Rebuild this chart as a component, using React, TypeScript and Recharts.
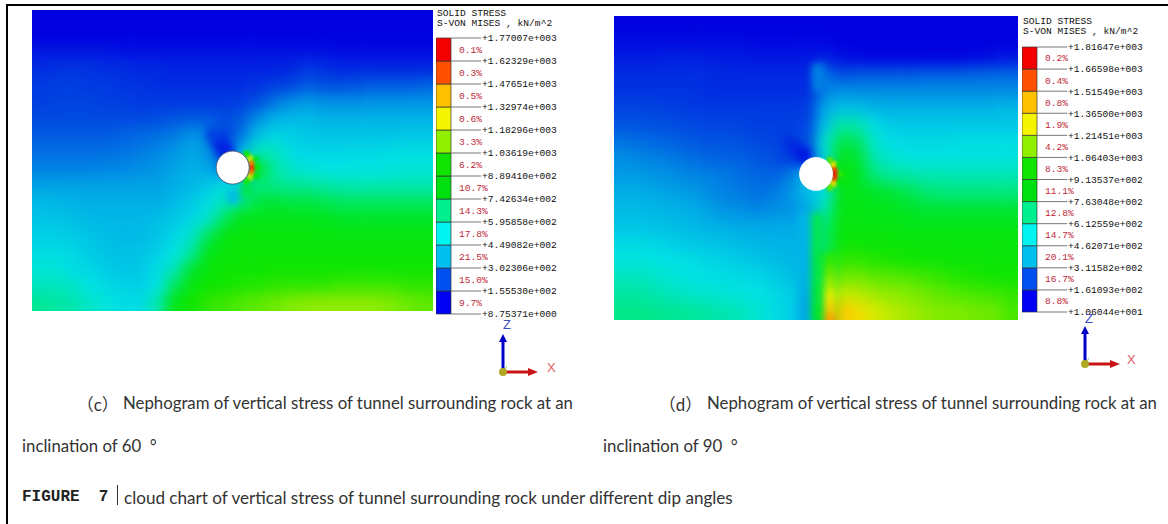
import { Bar, BarChart, LabelList, ReferenceDot, Scatter, ScatterChart, XAxis, YAxis } from "recharts";

// contour readings, in tens of kN/m^2 (24 columns x 18 rows)
const stressRowsC = [
  [6,6,6,6,6,6,6,6,6,6,6,6,6,6,6,6,6,6,6,6,6,6,6,6],
  [8,8,8,8,8,8,8,8,8,8,8,8,8,8,8,8,8,7,7,7,7,7,7,7],
  [12,12,12,12,12,11,11,11,11,11,11,11,11,11,11,11,11,11,10,10,10,10,10,10],
  [16,17,17,17,16,16,15,15,14,14,14,14,14,14,14,15,18,16,15,15,15,15,15,15],
  [18,19,19,18,18,17,17,16,16,16,16,16,16,17,19,20,24,22,22,23,24,24,24,25],
  [19,20,20,20,19,19,18,18,18,18,18,18,19,22,28,32,34,32,32,32,33,33,33,33],
  [21,21,21,21,21,21,21,22,23,24,24,22,24,32,38,40,40,38,38,38,38,38,38,38],
  [24,24,24,24,24,25,26,27,29,33,31,18,28,42,48,46,44,43,43,43,43,43,44,44],
  [27,27,27,27,27,28,29,31,33,36,33,17,40,58,58,50,48,48,48,49,49,50,50,50],
  [30,30,30,30,31,31,32,33,35,37,36,30,40,85,62,56,53,52,52,52,52,53,54,54],
  [35,35,35,35,35,35,35,35,37,39,44,50,45,68,66,64,64,62,60,60,60,60,60,60],
  [40,39,38,37,37,37,37,37,40,44,50,58,68,76,78,76,76,74,72,72,72,72,72,72],
  [43,43,41,40,39,39,39,41,44,48,55,72,84,84,84,84,84,82,80,80,80,80,80,80],
  [46,46,45,43,41,40,40,43,48,55,72,88,90,90,90,90,90,88,88,88,88,88,88,88],
  [50,50,48,45,43,42,43,46,52,62,82,90,92,92,92,92,92,92,92,92,92,92,92,92],
  [54,54,50,48,45,43,44,50,58,78,90,94,94,94,95,95,95,96,96,96,96,95,95,95],
  [58,58,56,52,49,47,46,52,72,88,95,96,98,98,100,100,100,100,102,102,102,102,100,100],
  [64,62,60,56,53,50,50,60,85,96,100,102,104,106,108,110,112,112,112,112,112,110,108,106],
];

const stressRowsD = [
  [6,6,6,6,6,6,6,6,6,6,6,6,6,6,6,6,6,6,6,6,6,6,6,6],
  [10,10,10,10,10,10,10,10,9,9,9,9,9,8,7,7,7,6,6,6,6,6,6,6],
  [13,13,13,14,14,13,13,13,12,12,12,12,14,11,10,9,9,9,9,9,9,10,11,12],
  [16,16,16,16,16,16,15,15,15,15,15,15,28,22,24,24,24,24,25,25,25,26,26,26],
  [17,17,17,17,17,16,16,16,16,16,16,16,30,33,32,32,32,32,32,32,32,32,32,32],
  [20,20,20,19,18,18,18,18,18,18,18,18,36,42,42,39,38,38,38,38,38,38,39,40],
  [23,23,22,22,21,20,20,20,19,19,19,20,42,62,60,50,45,44,44,44,44,44,44,44],
  [28,27,26,25,24,23,23,22,21,20,19,22,55,75,72,55,50,49,49,49,50,50,50,50],
  [32,31,30,29,27,26,25,25,23,22,18,17,48,85,78,60,55,53,53,53,53,53,53,53],
  [34,34,33,32,31,30,29,27,26,25,30,42,48,95,80,68,64,62,60,60,60,60,60,60],
  [37,37,36,35,34,32,30,29,27,29,33,41,50,85,82,80,78,74,70,68,68,68,68,68],
  [40,40,39,38,37,35,33,32,31,32,33,36,60,88,86,84,82,80,78,78,78,78,78,78],
  [43,43,42,41,40,38,37,36,36,36,36,38,70,88,88,88,86,85,85,85,85,85,85,85],
  [49,49,48,46,44,43,42,40,39,38,38,38,72,92,92,92,92,91,90,90,90,90,90,90],
  [53,53,52,51,50,48,47,45,43,41,39,39,72,100,100,98,97,96,94,93,92,92,92,92],
  [58,58,56,54,52,51,50,49,48,45,42,40,74,108,108,106,105,104,102,100,98,97,96,95],
  [62,62,60,58,56,55,54,53,52,49,46,40,76,120,118,114,112,110,108,106,104,103,102,100],
  [66,66,65,64,63,62,60,58,55,50,46,38,78,136,130,122,118,115,112,110,110,108,108,103],
];

// hot crescent on the tunnel wall: [x, y, tens of kN/m^2]
const spotsC = [
  [220.2,157.6,165],[219.5,152.6,150],[219.5,162.6,150],[217.6,147.8,120],[217.6,167.4,120],[214.5,143.8,95],[214.5,171.4,95],
  [225,157,92],[224,149,80],[224,166,85],
];
const spotsD = [
  [221.5,158.5,172],[220.8,153.5,160],[220.8,163.5,160],[218.9,148.7,130],[218.9,168.3,130],[215.8,144.7,105],[215.8,172.3,105],
  [226,158.5,100],[225,150,85],[225,167,90],
];

// softer local features: cold lobes, the plume, the sharp edge under the tunnel
const softSpotsC = [
  [190,137,12],[185,130,16],[195,142,14],[180,124,20],[201,187,40],[215,180,75],
];
const softSpotsD = [
  [183,134,14],[176,128,16],[190,140,12],[204,55,30],[205,68,30],
  [191,205,38],[191,217,38],[191,229,38],[191,241,38],[191,253,38],[191,265,38],[191,277,37],[191,289,36],[191,301,36],
  [203,205,74],[203,217,74],[203,229,74],[203,241,76],[203,253,76],[203,265,76],[203,277,78],[203,289,78],[203,301,80],
  [216,245,100],[216,257,106],[216,269,114],[216,281,124],[216,293,134],[216,305,144],
];

const levelsC = [8.75371,155.53,302.306,449.082,595.858,742.634,889.41,1036.19,1182.96,1329.74,1476.51,1623.29,1770.07];
const levelLabelsC = ["+8.75371e+000","+1.55530e+002","+3.02306e+002","+4.49082e+002","+5.95858e+002","+7.42634e+002","+8.89410e+002","+1.03619e+003","+1.18296e+003","+1.32974e+003","+1.47651e+003","+1.62329e+003","+1.77007e+003"];
const sharesC = ["9.7%","15.0%","21.5%","17.8%","14.3%","10.7%","6.2%","3.3%","0.6%","0.5%","0.3%","0.1%"];

const levelsD = [10.6044,161.093,311.582,462.071,612.559,763.048,913.537,1064.03,1214.51,1365,1515.49,1665.98,1816.47];
const levelLabelsD = ["+1.06044e+001","+1.61093e+002","+3.11582e+002","+4.62071e+002","+6.12559e+002","+7.63048e+002","+9.13537e+002","+1.06403e+003","+1.21451e+003","+1.36500e+003","+1.51549e+003","+1.66598e+003","+1.81647e+003"];
const sharesD = ["8.8%","16.7%","20.1%","14.7%","12.8%","11.1%","8.3%","4.2%","1.9%","0.8%","0.4%","0.2%"];

const bandColors = ["#0000f5","#0050f0","#00c0f0","#00f5f0","#00f090","#00e010","#10e400","#90f000","#f5f500","#ffc000","#ff5000","#f50000"];

const rampStops: [number, number[]][] = [
  [0,[0,0,220]],[8,[0,0,225]],[23,[0,85,225]],[37,[0,175,230]],[52,[0,228,228]],[67,[0,232,130]],
  [81,[0,230,30]],[96,[15,230,0]],[111,[135,235,0]],[125,[235,235,0]],[140,[255,190,0]],[155,[255,80,0]],[170,[255,0,0]],
];

function rampColor(v: number) {
  for (let i = 1; i < rampStops.length; i++) {
    const [hi, b] = rampStops[i];
    if (v <= hi) {
      const [lo, a] = rampStops[i - 1];
      const t = (v - lo) / (hi - lo);
      return `rgb(${a.map((c, k) => Math.round(c + (b[k] - c) * t)).join(",")})`;
    }
  }
  return "rgb(255,0,0)";
}

const COLS = 24;
const ROWS = 18;
const BLEED = 24;

const toSpot = ([x, y, stress]: number[]) => ({ x, y, stress });

function HeatPanel({ rows, spots, softSpots, left, top, width, height, tunnel, outline }: any) {
  const cw = width / COLS;
  const ch = height / ROWS;
  const cells = rows.flatMap((r: number[], j: number) =>
    r.map((stress, i) => ({ x: (i + 0.5) * cw, y: (j + 0.5) * ch, stress, i, j }))
  );

  // edge cells run past the frame so the blur does not fade out at the border
  const cell = ({ cx, cy, payload }: any) => {
    const { i, j, stress } = payload;
    const x0 = cx - cw / 2 - (i === 0 ? BLEED : 0);
    const x1 = cx + cw / 2 + (i === COLS - 1 ? BLEED : 0.6);
    const y0 = cy - ch / 2 - (j === 0 ? BLEED : 0);
    const y1 = cy + ch / 2 + (j === ROWS - 1 ? BLEED : 0.6);
    return <rect x={x0} y={y0} width={x1 - x0} height={y1 - y0} fill={rampColor(stress)} />;
  };
  const spot = ({ cx, cy, payload }: any) => (
    <rect x={cx - 3} y={cy - 3} width={6} height={6} fill={rampColor(payload.stress)} />
  );
  const softSpot = ({ cx, cy, payload }: any) => (
    <rect x={cx - 6} y={cy - 7} width={12} height={14} fill={rampColor(payload.stress)} />
  );

  return (
    <div style={{ position: "absolute", left, top, width, height, overflow: "hidden" }}>
      <ScatterChart width={width} height={height} margin={{ top: 0, right: 0, bottom: 0, left: 0 }}>
        <XAxis type="number" dataKey="x" domain={[0, width]} hide />
        <YAxis type="number" dataKey="y" domain={[0, height]} reversed hide />
        <Scatter className="heat-coarse" data={cells} shape={cell} isAnimationActive={false} />
        <Scatter className="heat-soft" data={softSpots.map(toSpot)} shape={softSpot} isAnimationActive={false} />
        <Scatter className="heat-fine" data={spots.map(toSpot)} shape={spot} isAnimationActive={false} />
        <ReferenceDot x={tunnel[0]} y={tunnel[1]} r={16.5} fill="#fff" stroke={outline} strokeWidth={0.8} />
      </ScatterChart>
    </div>
  );
}

function StressLegend({ levels, labels, shares, left, top, height }: any) {
  const row: Record<string, number | string> = { name: "stress" };
  shares.forEach((_: string, i: number) => {
    row[`band${i}`] = levels[i + 1] - levels[i];
  });
  const ticks = levels.map((l: number) => l - levels[0]);
  return (
    <div style={{ position: "absolute", left, top }}>
      <BarChart width={130} height={height + 20} data={[row]} barCategoryGap={0} margin={{ top: 10, right: 0, bottom: 10, left: 0 }}>
        <XAxis dataKey="name" hide />
        <YAxis
          orientation="right"
          width={115}
          type="number"
          domain={[0, ticks[ticks.length - 1]]}
          ticks={ticks}
          interval={0}
          axisLine={false}
          tickSize={30}
          tickMargin={1}
          tickLine={{ stroke: "#777" }}
          tickFormatter={(_: number, i: number) => labels[i]}
          tick={{ fontFamily: "Liberation Mono", fontSize: 9.6, fill: "#111" }}
        />
        {shares.map((share: string, i: number) => (
          <Bar key={share + i} dataKey={`band${i}`} stackId="s" fill={bandColors[i]} stroke="#333" strokeWidth={0.7} isAnimationActive={false}>
            <LabelList
              position="right"
              offset={8}
              valueAccessor={() => share}
              style={{ fontFamily: "Liberation Mono", fontSize: 9.6, fill: "#c02a3a" }}
            />
          </Bar>
        ))}
      </BarChart>
    </div>
  );
}

function Triad({ x, y }: { x: number; y: number }) {
  return (
    <svg style={{ position: "absolute", left: x - 12, top: y - 52 }} width={70} height={64}>
      <path d="M12 52 V18" stroke="#0000c8" strokeWidth={3} />
      <path d="M12 14 L8 22 H16 Z" fill="#0000c8" />
      <path d="M12 52 L16 46" stroke="#7fd07f" strokeWidth={1} />
      <path d="M12 52 H38" stroke="#c81414" strokeWidth={3} />
      <path d="M47 52 L37 48 V56 Z" fill="#c81414" />
      <circle cx={12} cy={52} r={4} fill="#b0a820" />
    </svg>
  );
}

const plainText = { position: "absolute", whiteSpace: "pre", fontFamily: "Lato, 'Noto Sans CJK SC'", fontSize: 16.8, color: "#333" } as const;
const monoText = { position: "absolute", whiteSpace: "pre", fontFamily: "Liberation Mono", fontSize: 9.6, color: "#111", lineHeight: "10px" } as const;
const axisLetter = { position: "absolute", fontFamily: "Liberation Sans", fontSize: 13, lineHeight: "10px" } as const;

export default function App() {
  return (
    <div style={{ position: "absolute", left: 0, top: 0, width: 1168, height: 524, overflow: "hidden", background: "#fff" }}>
      <style>{`.heat-coarse{filter:blur(7px)} .heat-soft{filter:blur(3.5px)} .heat-fine{filter:blur(1.6px)}`}</style>
      <div style={{ position: "absolute", left: 6, top: 4, width: 1162, height: 2, background: "#000" }} />
      <div style={{ position: "absolute", left: 6, top: 4, width: 2, height: 520, background: "#000" }} />

      <HeatPanel rows={stressRowsC} spots={spotsC} softSpots={softSpotsC} left={32} top={10} width={401} height={301} tunnel={[200.7, 157.6]} outline="#4a4a66" />
      <HeatPanel rows={stressRowsD} spots={spotsD} softSpots={softSpotsD} left={614} top={16} width={404} height={304} tunnel={[202, 158.5]} outline="#ffffff" />

      <div style={{ ...monoText, left: 437, top: 9 }}>{"SOLID STRESS\nS-VON MISES , kN/m^2"}</div>
      <div style={{ ...monoText, left: 1023, top: 17 }}>{"SOLID STRESS\nS-VON MISES , kN/m^2"}</div>

      <StressLegend levels={levelsC} labels={levelLabelsC} shares={sharesC} left={436} top={28} height={276} />
      <StressLegend levels={levelsD} labels={levelLabelsD} shares={sharesD} left={1022} top={37} height={265} />

      <Triad x={503} y={372} />
      <Triad x={1085} y={364} />
      <span style={{ ...axisLetter, left: 503, top: 320, color: "#4050c0" }}>Z</span>
      <span style={{ ...axisLetter, left: 547, top: 363, color: "#e06060" }}>X</span>
      <span style={{ ...axisLetter, left: 1085, top: 314, color: "#4050c0" }}>Z</span>
      <span style={{ ...axisLetter, left: 1127, top: 355, color: "#e06060" }}>X</span>

      <div style={{ ...plainText, left: 77, top: 392 }}>（c）</div>
      <div style={{ ...plainText, left: 123, top: 392 }}>Nephogram of vertical stress of tunnel surrounding rock at an</div>
      <div style={{ ...plainText, left: 22, top: 435 }}>inclination of 60  °</div>
      <div style={{ ...plainText, left: 659, top: 392 }}>（d）</div>
      <div style={{ ...plainText, left: 707, top: 392 }}>Nephogram of vertical stress of tunnel surrounding rock at an</div>
      <div style={{ ...plainText, left: 603, top: 435 }}>inclination of 90  °</div>
      <div style={{ ...plainText, left: 22, top: 488, fontSize: 16, fontFamily: "Liberation Mono", fontWeight: 700, color: "#222" }}>FIGURE  7</div>
      <div style={{ position: "absolute", left: 116.5, top: 485, width: 1.5, height: 20, background: "#333" }} />
      <div style={{ ...plainText, left: 124, top: 487, fontSize: 17.1 }}>cloud chart of vertical stress of tunnel surrounding rock under different dip angles</div>
    </div>
  );
}
